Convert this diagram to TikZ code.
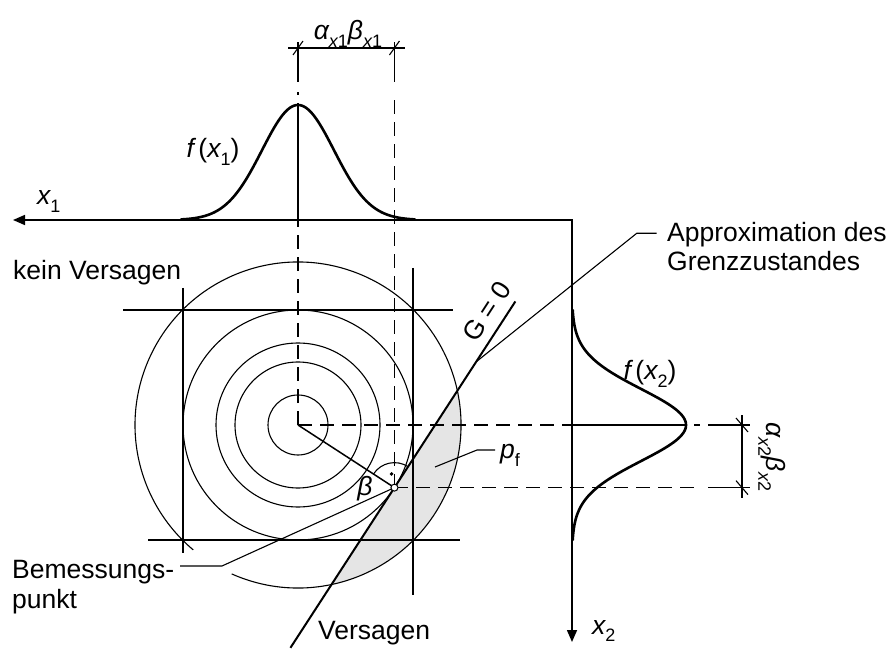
\documentclass[tikz,border=0pt]{standalone}
\usepackage{fontspec}
\setmainfont{Liberation Sans}
\usetikzlibrary{arrows.meta,calc}
\newcommand\mysub[1]{\raisebox{-0.3em}{\fontsize{18}{18}\selectfont #1}}
\begin{document}
\begin{tikzpicture}[x=1pt,y=1pt,
  thinl/.style={line width=1.1pt},
  dashl/.style={line width=1.1pt, dash pattern=on 14pt off 8pt},
  axisl/.style={line width=1.6pt},
  bell/.style={line width=2.6pt, line join=round, line cap=round},
  gline/.style={line width=2pt},
  lbl/.style={font=\fontsize{26.5}{30}\selectfont, inner sep=0pt},
]
\useasboundingbox (0,0) rectangle (890,648);
% key points
\coordinate (C) at (298,223);
\coordinate (P) at ($(C)+(-33:115)$);
\coordinate (Itop) at ($(C)+(12.13:163)$);
\coordinate (Ibot) at ($(C)+(-78.13:163)$);
\coordinate (Gbot) at ($(P)+(57:-191)$);
\coordinate (Gtop) at ($(P)+(57:222)$);
\coordinate (Gapp) at ($(P)+(57:150)$);
\coordinate (Glab) at ($(P)+(57:198)+(147:9)$);
\coordinate (O) at (572,428);
\coordinate (X1tip) at (13,428);
\coordinate (X2tip) at (572,6);
% failure region
\fill[gray!20] (Ibot) -- (Itop) arc[start angle=12.13, end angle=-78.13, radius=163] -- cycle;
% circles
\foreach \r in {30,63,82,115} \draw[thinl] (C) circle (\r);
\draw[thinl] ($(C)+(246:163)$) arc[start angle=246, end angle=590, radius=163];
% square lines
\draw[thinl] (123,338) -- (453,338);
\draw[thinl] (148,108) -- (460,108);
\draw[thinl] (183,360) -- (183,95);
\draw[thinl] (413,380) -- (413,53);
% dashed projection lines
\draw[dashl] (C) -- (298,556);
\draw[dashl] (P) -- (P |- 0,556);
\draw[dashl] (C) -- (700,223);
\draw[dashl] (P) -- (700,0 |- P);
% bell axes
\draw[thinl] (298,424) -- (298,545);
\draw[thinl] (576,223) -- (686,223);
% top dimension
\coordinate (D1a) at (298,600);
\coordinate (D1b) at (P |- 0,600);
\draw[thinl] (298,566) -- (298,606);
\draw[thinl] (P |- 0,566) -- (P |- 0,606);
\draw[thinl] (288,600) -- (405,600);
\draw[thinl] ($(D1a)+(-5,-7)$) -- ($(D1a)+(5,7)$);
\draw[thinl] ($(D1b)+(-5,-7)$) -- ($(D1b)+(5,7)$);
% right dimension
\coordinate (D2a) at (742,223);
\coordinate (D2b) at (742,0 |- P);
\draw[thinl] (708,223) -- (750,223);
\draw[thinl] (708,0 |- P) -- (750,0 |- P);
\draw[thinl] (742,233) -- (742,150);
\draw[thinl] ($(D2a)+(-6,7)$) -- ($(D2a)+(6,-7)$);
\draw[thinl] ($(D2b)+(-6,7)$) -- ($(D2b)+(6,-7)$);
% bells
\draw[bell] plot[domain=-117:117, samples=121] ({298+\x},{428+115*exp(-0.5*(\x/36)*(\x/36))});
\draw[bell] plot[domain=-115:115, samples=121] ({572+114*exp(-0.5*(\x/36)*(\x/36))},{223+\x});
% axes
\draw[axisl, {Triangle[length=12pt,width=10pt]}-{Triangle[length=12pt,width=10pt]}] (X1tip) -- (O) -- (X2tip);
% limit state line
\draw[gline] (Gbot) -- (Gtop);
% beta line
\draw[line width=1.5pt] (C) -- (P);
% right angle
\draw[thinl] ($(P)+(57:25)$) arc[start angle=57, end angle=147, radius=25];
\fill ($(P)+(102:14)$) circle (1.9);
% leaders
\coordinate (BemL) at (180,82);
\coordinate (BemK) at (222,82);
\draw[thinl] (BemL) -- (BemK) -- (P);
\coordinate (AppK) at (636.7,414.7);
\coordinate (AppE) at (656.7,414.7);
\draw[thinl] (Gapp) -- (AppK) -- (AppE);
\coordinate (PfA) at (435,181);
\coordinate (PfK) at (477,198);
\coordinate (PfE) at (495,198);
\draw[thinl] (PfA) -- (PfK) -- (PfE);
% design point
\node[circle, draw, fill=white, inner sep=0pt, minimum size=7pt, line width=1pt] (dp) at (P) {};
% labels
\node[lbl, anchor=base west] (kein) at (13,368) {kein Versagen};
\node[lbl, anchor=base west] (appr1) at (667,406) {Approximation des};
\node[lbl, anchor=base west] (appr2) at (667,377) {Grenzzustandes};
\node[lbl, anchor=base west] (bem1) at (12,70) {Bemessungs-};
\node[lbl, anchor=base west] (bem2) at (12,40) {punkt};
\node[lbl, anchor=base west] (vers) at (318,9) {Versagen};
\node[lbl] (fx1) at (213,496) {{\itshape f}\,({\itshape x}\mysub{1})};
\node[lbl] (fx2) at (650,274) {{\itshape f}\,({\itshape x}\mysub{2})};
\node[lbl, anchor=base west] (x1l) at (37,443) {{\itshape x}\mysub{1}};
\node[lbl, anchor=base west] (x2l) at (592,14) {{\itshape x}\mysub{2}};
\node[lbl] (pf) at (510,193) {{\itshape p}\mysub{f}};
\node[lbl] (beta) at (365,159) {\itshape β};
\node[lbl, rotate=57, anchor=south] (G0) at (Glab) {G = 0};
\node[lbl] (dim1) at (348,614) {{\itshape α}\mysub{\itshape x\upshape 1}{\itshape β}\mysub{\itshape x\upshape 1}};
\node[lbl, rotate=-90] (dim2) at (772,191) {{\itshape α}\mysub{\itshape x\upshape 2}{\itshape β}\mysub{\itshape x\upshape 2}};
\end{tikzpicture}
\end{document}
